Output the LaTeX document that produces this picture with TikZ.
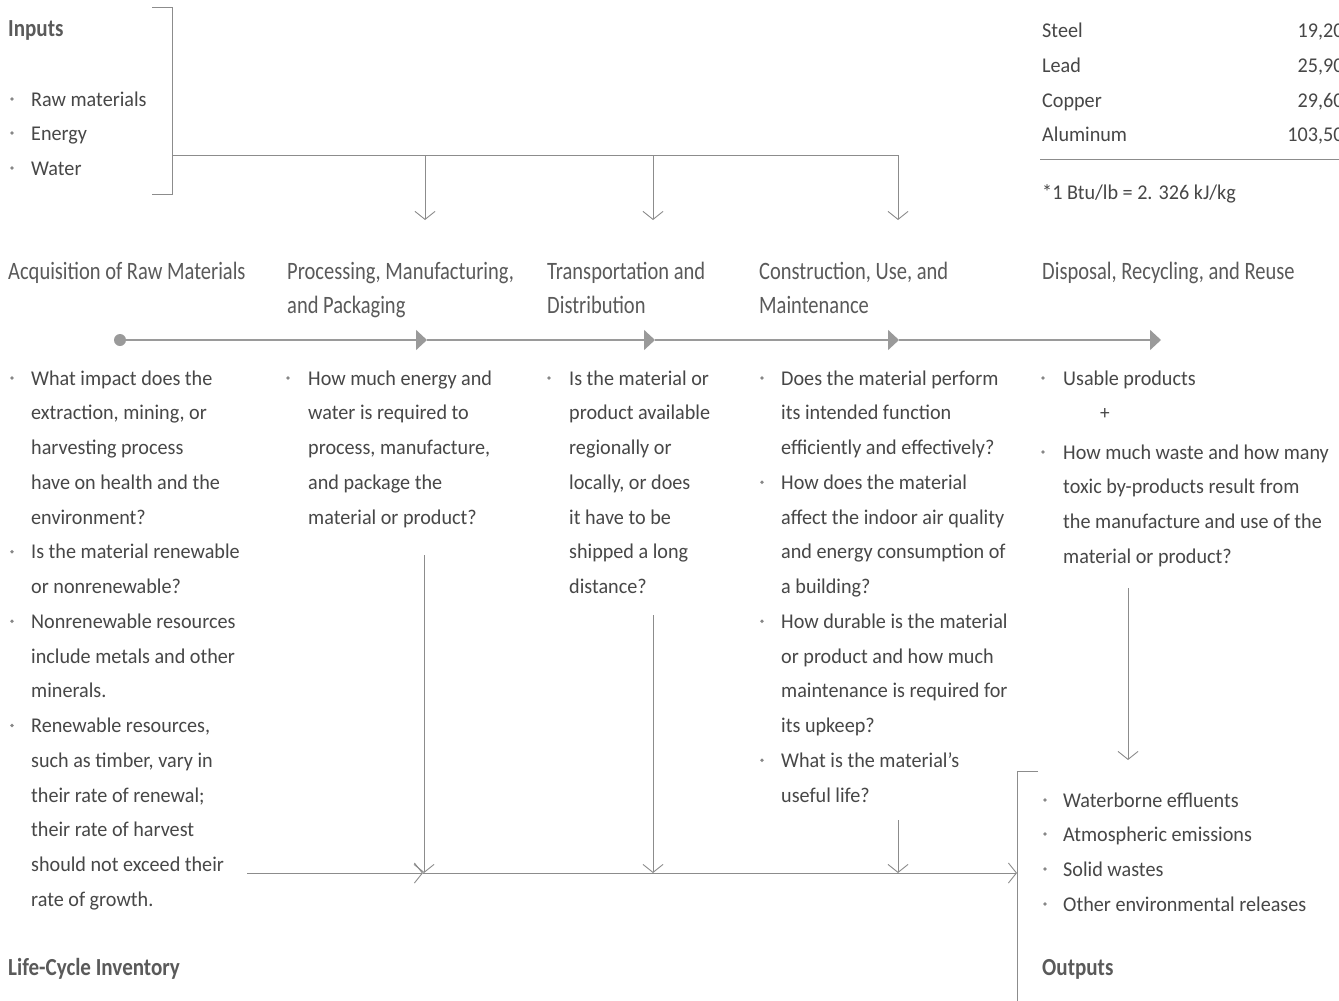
\documentclass[tikz,border=0pt]{standalone}
\usepackage{fontspec}
\setmainfont[FakeStretch=0.96]{Carlito}
\newfontfamily\hdfont[FakeStretch=0.82]{Carlito}
\newfontfamily\bhdfont[FakeStretch=0.86]{Carlito}
\usetikzlibrary{arrows.meta}
\definecolor{tx}{HTML}{474747}
\definecolor{hd}{HTML}{5A5A5A}
\definecolor{ln}{HTML}{8C8C8C}
\definecolor{tri}{HTML}{9A9A9A}
\tikzset{
  body/.style={anchor=base west,inner sep=0pt,text=tx,font=\fontsize{21}{25}\selectfont},
  stagehd/.style={anchor=base west,inner sep=0pt,text=hd,font=\hdfont\fontsize{25}{28}\selectfont},
  bighd/.style={anchor=base west,inner sep=0pt,text=hd,font=\bhdfont\bfseries\fontsize{24.5}{28}\selectfont},
  num/.style={anchor=base east,inner sep=0pt,text=tx,font=\fontsize{21}{25}\selectfont},
  bdot/.style={circle,fill=tx!65,inner sep=0pt,minimum size=3.6pt},
  conn/.style={draw=ln,line width=0.9pt},
  vee/.style={conn,-{Straight Barb[length=8pt,width=20pt]}},
  tline/.style={draw=tri,line width=1.6pt,-{Triangle[length=11pt,width=20pt,fill=tri]}},
}
\newcommand\txlines[4]{%
  \foreach \t [count=\i] in {#4} {\node[body] (#3\i) at (#1,{#2+9+(\i-1)*34.75}) {\t};}}
\newcommand\bul[3]{\node[bdot] (#3) at (#1,{#2+2}) {};}
\begin{document}
\begin{tikzpicture}[x=1pt,y=-1pt]
\useasboundingbox (0,0) rectangle (1339,1001);
\clip (0,0) rectangle (1339,1001);
\fill[white] (0,0) rectangle (1339,1001);

% ---------- Inputs ----------
\node[bighd] (inputs) at (8,36) {Inputs};
\bul{12}{97}{ib1}\bul{12}{131}{ib2}\bul{12}{166}{ib3}
\node[body] (in1) at (31,106) {Raw materials};
\node[body] (in2) at (31,140) {Energy};
\node[body] (in3) at (31,175) {Water};
\coordinate (brT) at (152,7);
\coordinate (brB) at (152,194);
\coordinate (brM) at (172,155);
\draw[conn] (brT) -- (172,7) -- (172,194) -- (brB);
\coordinate (d1) at (425,155);
\coordinate (d2) at (653,155);
\coordinate (d3) at (898,155);
\draw[conn] (brM) -- (d3);
\coordinate (d1e) at (425,220);
\coordinate (d2e) at (653,220);
\coordinate (d3e) at (898,220);
\draw[vee] (d1) -- (d1e);
\draw[vee] (d2) -- (d2e);
\draw[vee] (d3) -- (d3e);

% ---------- Table ----------
\node[body] (tn0) at (1042,-5) {Plastic};
\node[body] (tn1) at (1042,37) {Steel};
\node[body] (tn2) at (1042,72) {Lead};
\node[body] (tn3) at (1042,107) {Copper};
\node[body] (tn4) at (1042,141) {Aluminum};
\node[num] (tv0) at (1354,-5) {16,000};
\node[num] (tv1) at (1354,37) {19,200};
\node[num] (tv2) at (1354,72) {25,900};
\node[num] (tv3) at (1354,107) {29,600};
\node[num] (tv4) at (1354,141) {103,500};
\coordinate (ruleL) at (1040,159);
\coordinate (ruleR) at (1339,159);
\draw[conn] (ruleL) -- (ruleR);
\node[body] (foot) at (1042,199) {*1 Btu/lb = 2. 326 kJ/kg};

% ---------- Stage headers ----------
\node[stagehd] (h1) at (8,279) {Acquisition of Raw Materials};
\node[stagehd] (h2a) at (287,279) {Processing, Manufacturing,};
\node[stagehd] (h2b) at (287,313) {and Packaging};
\node[stagehd] (h3a) at (547,279) {Transportation and};
\node[stagehd] (h3b) at (547,313) {Distribution};
\node[stagehd] (h4a) at (759,279) {Construction, Use, and};
\node[stagehd] (h4b) at (759,313) {Maintenance};
\node[stagehd] (h5) at (1042,279) {Disposal, Recycling, and Reuse};

% ---------- Timeline ----------
\node[circle,fill=tri,inner sep=0pt,minimum size=12pt] (start) at (120,340) {};
\coordinate (t1) at (427,340);
\coordinate (t2) at (655,340);
\coordinate (t3) at (899,340);
\coordinate (t4) at (1161,340);
\draw[tline] (start.center) -- (t1);
\draw[tline] (t1) -- (t2);
\draw[tline] (t2) -- (t3);
\draw[tline] (t3) -- (t4);

% ---------- Column 1 ----------
\bul{12}{376}{c1b1}\bul{12}{549.75}{c1b2}\bul{12}{619.25}{c1b3}\bul{12}{723.5}{c1b4}
\txlines{31}{376}{ca}{What impact does the,{extraction, mining, or},harvesting process,have on health and the,environment?,Is the material renewable,or nonrenewable?,Nonrenewable resources,include metals and other,minerals.,{Renewable resources,},{such as timber, vary in},their rate of renewal;,their rate of harvest,should not exceed their,rate of growth.}

% ---------- Column 2 ----------
\bul{288}{376}{c2b1}
\txlines{308}{376}{cb}{How much energy and,water is required to,{process, manufacture,},and package the,material or product?}

% ---------- Column 3 ----------
\bul{549}{376}{c3b1}
\txlines{569}{376}{cc}{Is the material or,product available,regionally or,{locally, or does},it have to be,shipped a long,distance?}

% ---------- Column 4 ----------
\bul{762}{376}{c4b1}\bul{762}{480.25}{c4b2}\bul{762}{619.25}{c4b3}\bul{762}{758.25}{c4b4}
\txlines{781}{376}{cd}{Does the material perform,its intended function,efficiently and effectively?,How does the material,affect the indoor air quality,and energy consumption of,a building?,How durable is the material,or product and how much,maintenance is required for,its upkeep?,What is the material’s,useful life?}

% ---------- Column 5 ----------
\bul{1043}{376}{c5b1}
\node[body] (ce1) at (1063,385) {Usable products};
\node[inner sep=0pt,text=tx,font=\fontsize{20}{24}\selectfont] (plus) at (1105,414) {+};
\bul{1043}{450}{c5b2}
\txlines{1063}{450}{cf}{How much waste and how many,toxic by-products result from,the manufacture and use of the,material or product?}
\coordinate (c5s) at (1128,588);
\coordinate (c5e) at (1128,760);
\draw[vee] (c5s) -- (c5e);

% ---------- Bottom flow ----------
\coordinate (b0) at (247,873);
\coordinate (j1) at (423,873);
\coordinate (j2) at (653,873);
\coordinate (j3) at (898,873);
\coordinate (bend) at (1017,873);
\draw[vee] (b0) -- (j1);
\draw[vee] (j1) -- (bend);
\coordinate (v1s) at (424,555);
\coordinate (v2s) at (653,615);
\coordinate (v3s) at (898,820);
\draw[vee] (v1s) -- (424,873);
\draw[vee] (v2s) -- (j2);
\draw[vee] (v3s) -- (j3);

% ---------- Outputs ----------
\coordinate (obT) at (1038,771);
\draw[conn] (obT) -- (1017,771) -- (1017,1005);
\bul{1045}{798}{ob1}\bul{1045}{832}{ob2}\bul{1045}{867}{ob3}\bul{1045}{902}{ob4}
\node[body] (o1) at (1063,807) {Waterborne effluents};
\node[body] (o2) at (1063,841) {Atmospheric emissions};
\node[body] (o3) at (1063,876) {Solid wastes};
\node[body] (o4) at (1063,911) {Other environmental releases};
\node[bighd] (outputs) at (1042,975) {Outputs};
\node[bighd] (lci) at (8,975) {Life-Cycle Inventory};
\end{tikzpicture}
\end{document}
